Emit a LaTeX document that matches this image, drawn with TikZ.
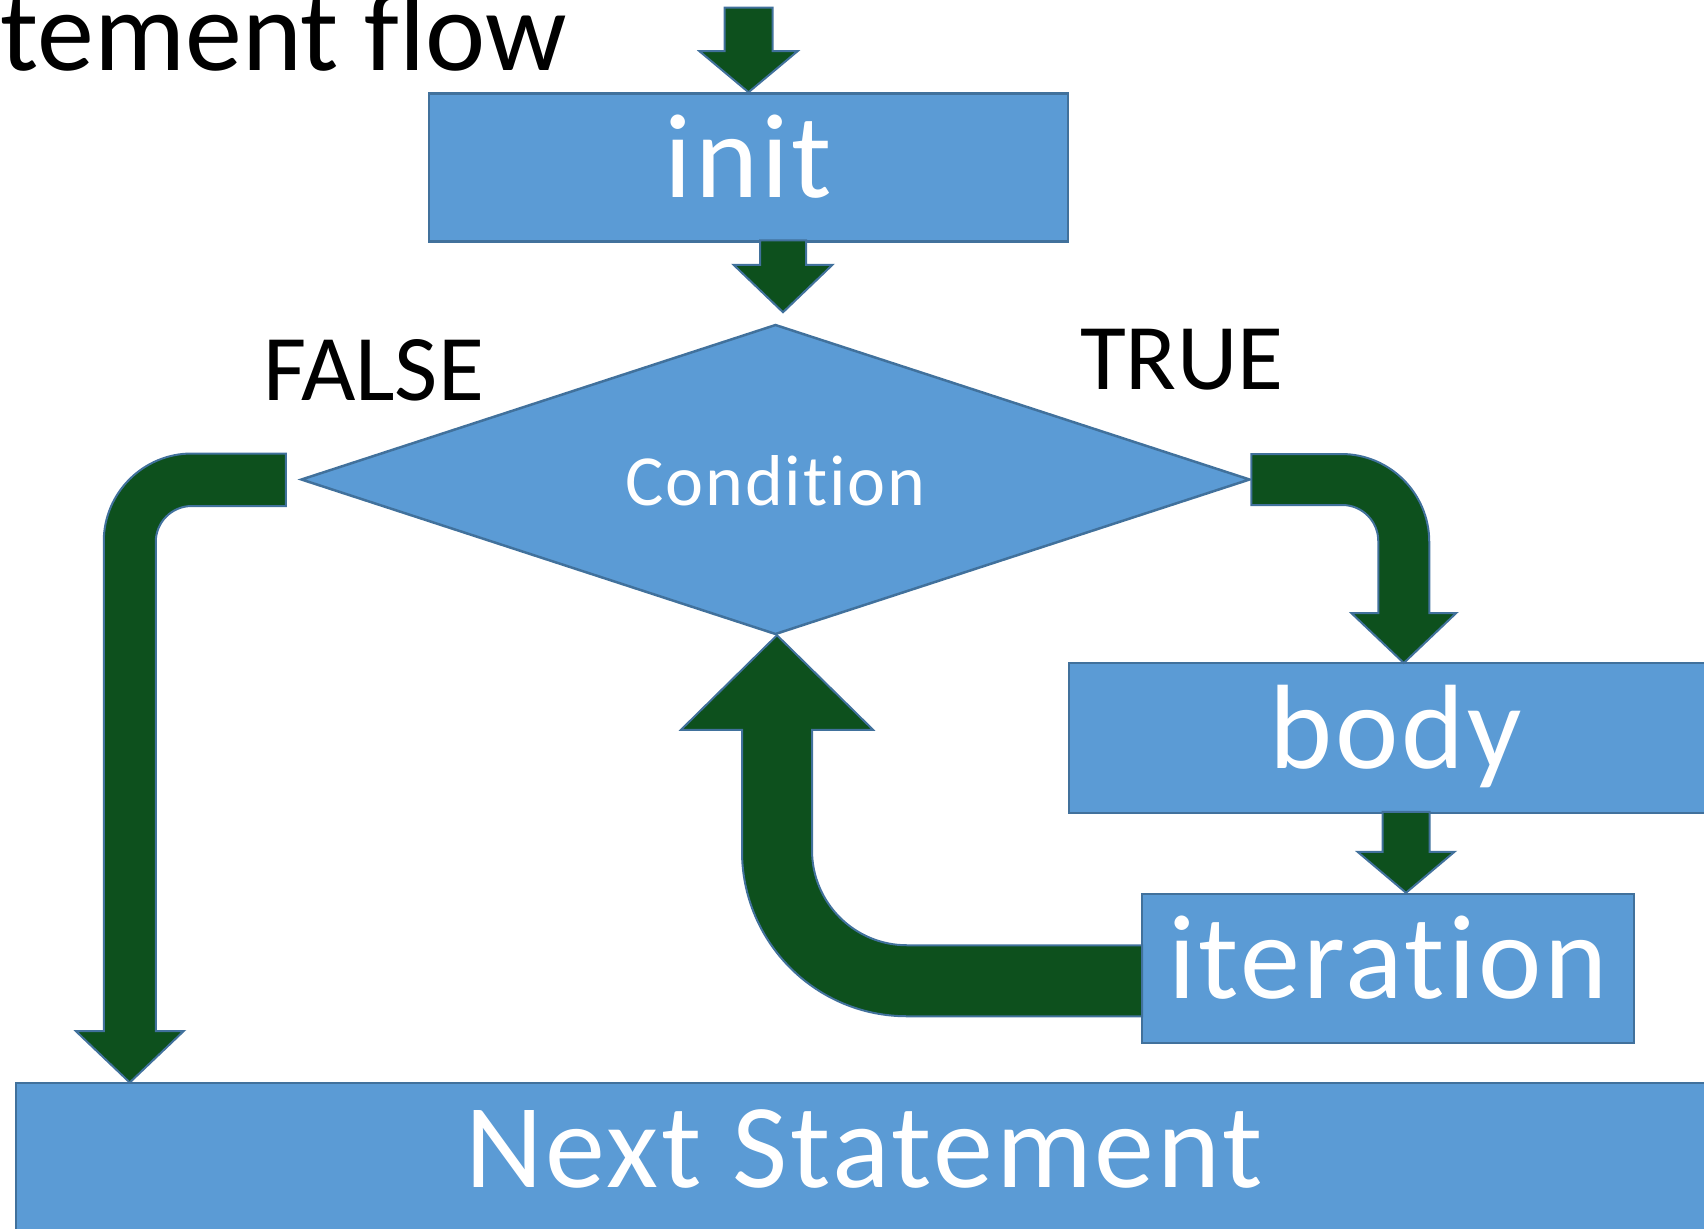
\documentclass[tikz,border=0pt]{standalone}
\usepackage{fontspec}
\setmainfont{Carlito}[Ligatures=NoCommon]
\newfontfamily\boxfont{Carlito}[LetterSpace=2.5,Ligatures=NoCommon]
\usetikzlibrary{shapes.geometric,calc}
\definecolor{boxblue}{HTML}{5B9BD5}
\definecolor{edgeblue}{HTML}{41719C}
\definecolor{arrowgreen}{HTML}{0D501D}

% straight block arrow pointing down:
% #1 tip, #2 tip-to-tail length, #3 head length, #4 shaft half width, #5 head half width
\newcommand\downblock[5]{%
  \path[blockarrow] ($(#1)+(-#4,-#2)$) -- ($(#1)+(#4,-#2)$) -- ($(#1)+(#4,-#3)$)
    -- ($(#1)+(#5,-#3)$) -- (#1) -- ($(#1)+(-#5,-#3)$) -- ($(#1)+(-#4,-#3)$) -- cycle;}

\begin{document}
\begin{tikzpicture}[x=1pt,y=-1pt,
  box/.style={draw=edgeblue, line width=2.5pt, fill=boxblue, text=white, inner sep=0pt,
    font=\boxfont\fontsize{120}{144}\selectfont, text height=90pt, text depth=30pt},
  blockarrow/.style={draw=edgeblue, line width=2pt, fill=arrowgreen, line join=miter},
  lbl/.style={inner sep=0pt, text=black}]
\useasboundingbox (0,0) rectangle (1704,1228);

% boxes
\node[box, minimum width=639pt, minimum height=148pt] (init) at (748.5,167.5) {init};
\node[box, shape=diamond, aspect=3.06, minimum width=949pt, minimum height=310pt,
  font=\boxfont\fontsize{72}{86}\selectfont, text height=54pt, text depth=3pt] (cond) at (775.5,479.5) {Condition};
\node[box, minimum width=654pt, minimum height=150pt] (body) at (1396,738) {body};
\node[box, minimum width=492pt, minimum height=149pt] (iter) at (1388,968.5) {iteration};
\node[box, minimum width=1696pt, minimum height=149pt] (next) at (864,1157.5) {Next Statement};

% labels
\node[lbl, anchor=base east, font=\fontsize{114}{136}\selectfont] (title) at (567,70.7) {tement flow};
\node[lbl, anchor=base west, font=\fontsize{94}{113}\selectfont] (false) at (263,400) {FALSE};
\node[lbl, anchor=base west, font=\fontsize{94}{113}\selectfont] (true) at (1080,389) {TRUE};

% straight arrows
\downblock{init.north}{84.5}{41}{24}{49}
\coordinate (condtip) at ($(cond.north)+(7.5,-11)$);
\downblock{condtip}{72}{47.5}{23}{49.5}
\coordinate (itertip) at ($(iter.north)+(18,0)$);
\downblock{itertip}{81}{41}{23.5}{48.5}

% FALSE branch: from the diamond down to the next statement
\begin{scope}[shift={(cond.west)}]
\path[blockarrow] (-14,-26) -- (-108,-26) .. controls (-156.6,-26) and (-196,13.4) .. (-196,62)
  -- (-196,551.5) -- (-224,551.5) -- (-170,603) -- (-116,551.5) -- (-144,551.5) -- (-144,62.5)
  .. controls (-144,42.6) and (-127.9,26.5) .. (-108,26.5) -- (-14,26.5) -- cycle;
\end{scope}

% TRUE branch: from the diamond down to the body
\begin{scope}[shift={(cond.east)}]
\path[blockarrow] (0,-25.5) -- (90,-25.5) .. controls (138.6,-25.5) and (178,13.9) .. (178,62.5)
  -- (178,133.5) -- (205,133.5) -- (152.5,183.5) -- (100,133.5) -- (127,133.5) -- (127,61.5)
  .. controls (127,41.6) and (110.9,25.5) .. (91,25.5) -- (0,25.5) -- cycle;
\end{scope}

% loop back: from the iteration up to the diamond
\begin{scope}[shift={(cond.south)}]
\path[blockarrow] (366.5,380.5) -- (131.5,380.5) .. controls (40.4,380.5) and (-33.5,306.6) .. (-33.5,215.5)
  -- (-33.5,94) -- (-94.5,94) -- (1.5,-0.5) -- (97.5,94) -- (36.5,94) -- (36.5,214.5)
  .. controls (36.5,267) and (79,309.5) .. (131.5,309.5) -- (366.5,309.5) -- cycle;
\end{scope}
\end{tikzpicture}
\end{document}
